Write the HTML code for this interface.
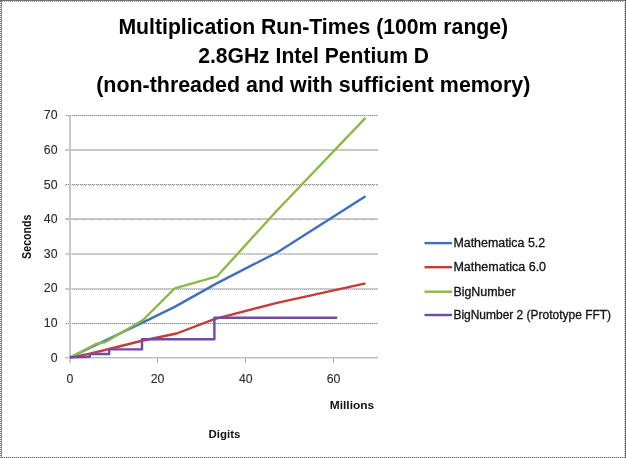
<!DOCTYPE html>
<html><head><meta charset="utf-8"><title>Multiplication Run-Times</title><style>
html,body{margin:0;padding:0;background:#fff;}
body{width:626px;height:458px;overflow:hidden;position:relative;}
svg{position:absolute;left:0;top:0;display:block;will-change:transform;}
text{font-family:"Liberation Sans", Arial, sans-serif;}
</style></head><body>
<svg width="626" height="458" viewBox="0 0 626 458">
<defs>
<pattern id="dotH" width="2" height="1" patternUnits="userSpaceOnUse"><rect width="1" height="1" fill="#9a9a9a"/><rect x="1" width="1" height="1" fill="#ffffff"/></pattern>
<pattern id="dotHD" width="2" height="1" patternUnits="userSpaceOnUse"><rect width="1" height="1" fill="#6a6a6a"/><rect x="1" width="1" height="1" fill="#c8c8c8"/></pattern>
<pattern id="dotV" width="1" height="2" patternUnits="userSpaceOnUse"><rect width="1" height="1" fill="#ffffff"/><rect y="1" width="1" height="1" fill="#7a7a7a"/></pattern>
<pattern id="dotVL" width="1" height="2" patternUnits="userSpaceOnUse"><rect width="1" height="1" fill="#ffffff"/><rect y="1" width="1" height="1" fill="#c0c0c0"/></pattern>
<pattern id="gridDot" width="2" height="1" patternUnits="userSpaceOnUse"><rect width="1" height="1" fill="#8e8e8e"/><rect x="1" width="1" height="1" fill="#d4d4d4"/></pattern>
<pattern id="dot4" x="1" width="4" height="1" patternUnits="userSpaceOnUse"><rect width="1" height="1" fill="#a0a0a0"/></pattern>
<pattern id="dot8" width="8" height="1" patternUnits="userSpaceOnUse"><rect x="3" width="1" height="1" fill="#8a8a8a"/></pattern>
</defs>
<rect x="0" y="0" width="1" height="458" fill="url(#dotV)"/>
<rect x="1" y="0" width="1" height="458" fill="#8c8c8c"/>
<rect x="2" y="1" width="622" height="1" fill="url(#dotH)"/>
<rect x="0" y="0" width="626" height="1" fill="#6e6e6e"/>
<rect x="624" y="2" width="1" height="455" fill="url(#dotVL)"/>
<rect x="0" y="457" width="626" height="1" fill="url(#dotHD)"/>
<rect x="625" y="0" width="1" height="458" fill="#6a6a6a"/>
<rect x="65" y="115" width="313" height="1" fill="url(#gridDot)"/>
<rect x="65" y="149" width="313" height="2" fill="#c8c8c8"/>
<rect x="65" y="184" width="313" height="1" fill="url(#gridDot)"/>
<rect x="65" y="185" width="313" height="1" fill="url(#dot4)"/>
<rect x="65" y="218" width="313" height="2" fill="#c8c8c8"/>
<rect x="65" y="219" width="313" height="1" fill="url(#dot8)"/>
<rect x="65" y="254" width="313" height="1" fill="#cacaca"/>
<rect x="65" y="253" width="313" height="1" fill="url(#gridDot)" opacity="0.6"/>
<rect x="65" y="288" width="313" height="1" fill="#cacaca"/>
<rect x="65" y="289" width="313" height="1" fill="url(#gridDot)" opacity="0.7"/>
<rect x="65" y="323" width="313" height="1" fill="url(#gridDot)"/>
<rect x="65" y="357" width="313" height="1" fill="#c6c6c6"/>
<rect x="65" y="358" width="313" height="1" fill="#e2e2e2"/>
<rect x="66" y="357" width="312" height="1" fill="url(#dot4)"/>
<rect x="69" y="115" width="2" height="248" fill="#c8c8c8"/>
<rect x="157" y="357" width="1" height="6" fill="#a8a8a8"/>
<rect x="245" y="357" width="1" height="6" fill="#a8a8a8"/>
<rect x="333" y="357" width="1" height="6" fill="#a8a8a8"/>
<polyline points="70.0,357.5 143.5,322.2 174.7,306.9 217.2,283.1 277.5,252.2 365.5,196.2" fill="none" stroke="#3f6fc2" stroke-width="2.4" stroke-linejoin="round" stroke-linecap="butt"/>
<polyline points="70.0,357.6 90.0,353.6 109.0,349.0 143.0,340.5 176.6,333.5 214.4,319.2 277.0,302.8 365.5,283.4" fill="none" stroke="#c63b38" stroke-width="2.4" stroke-linejoin="round" stroke-linecap="butt"/>
<polyline points="70.0,357.5 96.0,344.0 105.5,342.0 143.0,320.0 174.7,288.4 217.1,276.3 277.0,210.5 365.5,117.9" fill="none" stroke="#8eb846" stroke-width="2.4" stroke-linejoin="round" stroke-linecap="butt"/>
<polyline points="70.0,357.3 89.8,356.8 89.8,354.0 109.2,354.0 109.2,349.4 142.0,349.4 142.0,339.2 214.4,339.2 214.4,317.8 337.2,317.8" fill="none" stroke="#6f4aa8" stroke-width="2.4" stroke-linejoin="round" stroke-linecap="butt"/>
<text x="118.4" y="34.0" font-size="22.60" font-weight="bold" text-anchor="start" textLength="389.8" lengthAdjust="spacingAndGlyphs" fill="#000">Multiplication Run-Times (100m range)</text>
<text x="198.2" y="63.0" font-size="22.60" font-weight="bold" text-anchor="start" textLength="230.8" lengthAdjust="spacingAndGlyphs" fill="#000">2.8GHz Intel Pentium D</text>
<text x="96.2" y="92.0" font-size="22.60" font-weight="bold" text-anchor="start" textLength="434.1" lengthAdjust="spacingAndGlyphs" fill="#000">(non-threaded and with sufficient memory)</text>
<text x="57.5" y="361.6" font-size="12.30" font-weight="normal" text-anchor="end" fill="#2a2a2a" stroke="#2a2a2a" stroke-width="0.10">0</text>
<text x="57.5" y="327.0" font-size="12.30" font-weight="normal" text-anchor="end" fill="#2a2a2a" stroke="#2a2a2a" stroke-width="0.10">10</text>
<text x="57.5" y="292.4" font-size="12.30" font-weight="normal" text-anchor="end" fill="#2a2a2a" stroke="#2a2a2a" stroke-width="0.10">20</text>
<text x="57.5" y="257.8" font-size="12.30" font-weight="normal" text-anchor="end" fill="#2a2a2a" stroke="#2a2a2a" stroke-width="0.10">30</text>
<text x="57.5" y="223.2" font-size="12.30" font-weight="normal" text-anchor="end" fill="#2a2a2a" stroke="#2a2a2a" stroke-width="0.10">40</text>
<text x="57.5" y="188.6" font-size="12.30" font-weight="normal" text-anchor="end" fill="#2a2a2a" stroke="#2a2a2a" stroke-width="0.10">50</text>
<text x="57.5" y="154.0" font-size="12.30" font-weight="normal" text-anchor="end" fill="#2a2a2a" stroke="#2a2a2a" stroke-width="0.10">60</text>
<text x="57.5" y="119.4" font-size="12.30" font-weight="normal" text-anchor="end" fill="#2a2a2a" stroke="#2a2a2a" stroke-width="0.10">70</text>
<text x="70.0" y="383.2" font-size="12.30" font-weight="normal" text-anchor="middle" fill="#2a2a2a" stroke="#2a2a2a" stroke-width="0.10">0</text>
<text x="157.6" y="383.2" font-size="12.30" font-weight="normal" text-anchor="middle" fill="#2a2a2a" stroke="#2a2a2a" stroke-width="0.10">20</text>
<text x="245.8" y="383.2" font-size="12.30" font-weight="normal" text-anchor="middle" fill="#2a2a2a" stroke="#2a2a2a" stroke-width="0.10">40</text>
<text x="333.6" y="383.2" font-size="12.30" font-weight="normal" text-anchor="middle" fill="#2a2a2a" stroke="#2a2a2a" stroke-width="0.10">60</text>
<text x="329.8" y="409.4" font-size="11.60" font-weight="bold" text-anchor="start" textLength="44.4" lengthAdjust="spacingAndGlyphs" fill="#111">Millions</text>
<text x="208.6" y="438.0" font-size="11.80" font-weight="bold" text-anchor="start" textLength="31.8" lengthAdjust="spacingAndGlyphs" fill="#111">Digits</text>
<text transform="translate(31.1,258.9) rotate(-90)" x="0" y="0" font-size="12.30" font-weight="bold" textLength="44.4" lengthAdjust="spacingAndGlyphs" fill="#111">Seconds</text>
<rect x="424.5" y="241.9" width="27.5" height="2.4" fill="#3f6fc2"/>
<text x="453.4" y="246.9" font-size="12.30" font-weight="normal" text-anchor="start" textLength="91.8" lengthAdjust="spacingAndGlyphs" fill="#111" stroke="#111" stroke-width="0.30">Mathematica 5.2</text>
<rect x="424.5" y="266.0" width="27.5" height="2.4" fill="#c63b38"/>
<text x="453.4" y="271.0" font-size="12.30" font-weight="normal" text-anchor="start" textLength="92.7" lengthAdjust="spacingAndGlyphs" fill="#111" stroke="#111" stroke-width="0.30">Mathematica 6.0</text>
<rect x="424.5" y="290.5" width="27.5" height="2.4" fill="#8eb846"/>
<text x="453.4" y="295.5" font-size="12.30" font-weight="normal" text-anchor="start" textLength="62.1" lengthAdjust="spacingAndGlyphs" fill="#111" stroke="#111" stroke-width="0.30">BigNumber</text>
<rect x="424.5" y="313.8" width="27.5" height="2.4" fill="#6f4aa8"/>
<text x="453.4" y="318.8" font-size="12.30" font-weight="normal" text-anchor="start" textLength="157.7" lengthAdjust="spacingAndGlyphs" fill="#111" stroke="#111" stroke-width="0.30">BigNumber 2 (Prototype FFT)</text>
</svg>
</body></html>
